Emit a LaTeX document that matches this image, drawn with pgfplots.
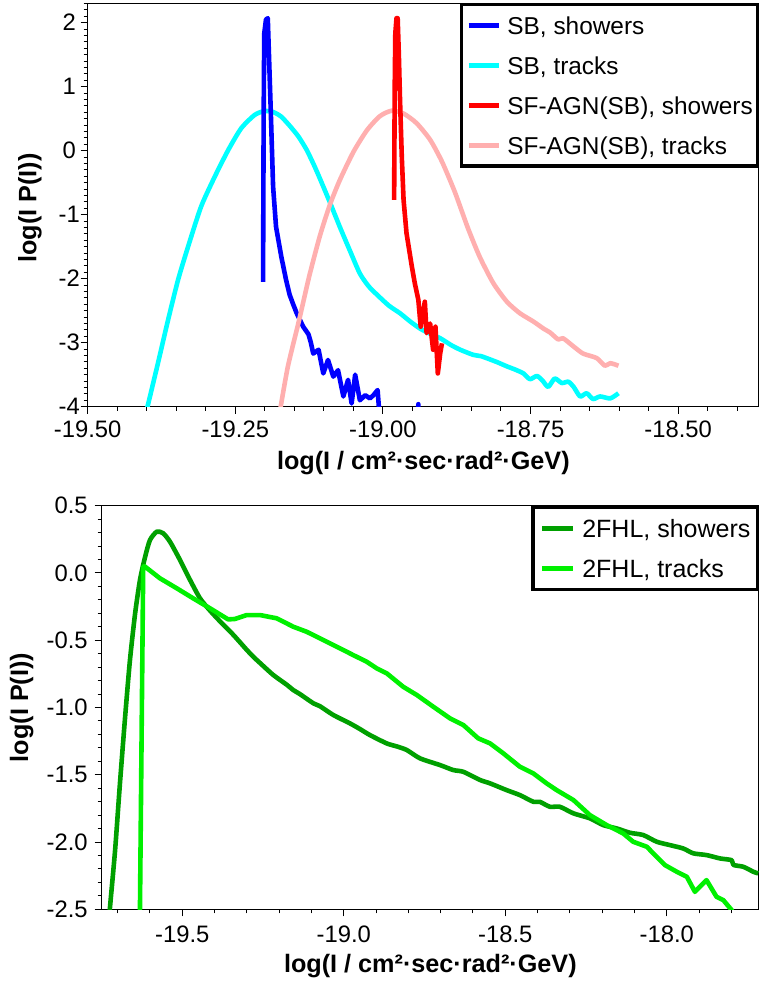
\documentclass[border=0pt]{standalone}
\usepackage{fontspec}
\setmainfont{Liberation Sans}
\usepackage{pgfplots}
\pgfplotsset{compat=1.18}

\definecolor{sbS}{RGB}{0,0,255}
\definecolor{sbT}{RGB}{0,255,255}
\definecolor{agnS}{RGB}{255,0,0}
\definecolor{agnT}{RGB}{255,175,175}
\definecolor{fhlS}{RGB}{0,160,0}
\definecolor{fhlT}{RGB}{0,240,0}

\pgfplotsset{
  panel/.style={
    scale only axis,
    axis line style={line width=0.6pt},
    tick align=outside, tick pos=left,
    major tick length=3.5pt, minor tick length=2pt,
    major tick style={black, line width=0.5pt},
    minor tick style={black, line width=0.5pt},
    tick label style={font=\fontsize{11.9}{14}\selectfont},
    xlabel style={font=\fontsize{12.6}{15}\selectfont\bfseries},
    ylabel style={font=\fontsize{12.6}{15}\selectfont\bfseries},
    legend cell align=left,
    legend style={at={(1,1)}, anchor=north east, draw=black, line width=1.6pt,
      column sep=0pt, /tikz/every odd column/.append style={column sep=3.3pt}},
    every axis plot/.append style={line width=2.3pt, line join=round},
  },
}

\begin{document}
\begin{tikzpicture}
\useasboundingbox (0,0) rectangle (379.5pt,492.5pt);

% top panel: SB and SF-AGN(SB)
\begin{axis}[panel,
  at={(43.85pt,289.15pt)}, anchor=south west,
  width=335.65pt, height=201.7pt,
  xmin=-19.5, xmax=-18.363, ymin=-4, ymax=2.303,
  xtick={-19.5,-19.25,-19,-18.75,-18.5},
  xticklabels={-19.50,-19.25,-19.00,-18.75,-18.50},
  minor xtick={-19.45,-19.40,-19.35,-19.30,-19.20,-19.15,-19.10,-19.05,-18.95,-18.90,-18.85,-18.80,-18.70,-18.65,-18.60,-18.55,-18.45,-18.40},
  ytick={-4,-3,-2,-1,0,1,2},
  yticklabels={-4,-3,-2,-1,0,1,2},
  yticklabel style={anchor=center, xshift=-5.7pt},
  minor ytick={-3.9,-3.8,...,2.25},
  xlabel={log(I / cm²·sec·rad²·GeV)},
  ylabel={log(I P(I))},
  xlabel style={at={(rel axis cs:0.5,0)}, anchor=center, yshift=-28pt},
  ylabel style={at={(rel axis cs:0,0.5)}, anchor=center, yshift=28.85pt, xshift=-1.5pt},
  legend style={font=\fontsize{12.2}{14}\selectfont, inner xsep=2.3pt, inner ysep=4.9pt,
    row sep=9.26pt, nodes={inner xsep=0pt, inner ysep=1pt, text height=8.74pt, text depth=0pt}},
  legend image code/.code={\draw[#1] (0pt,0pt) -- (15pt,0pt);},
]
\addlegendimage{sbS}\addlegendentry{SB, showers}
\addlegendimage{sbT}\addlegendentry{SB, tracks}
\addlegendimage{agnS}\addlegendentry{SF-AGN(SB), showers}
\addlegendimage{agnT}\addlegendentry{SF-AGN(SB), tracks}

\addplot[sbT, smooth, tension=0.4, forget plot] coordinates {
(-19.400,-4.05) (-19.381,-3.32) (-19.364,-2.65) (-19.347,-2.02) (-19.330,-1.50)
(-19.308,-0.875) (-19.285,-0.41) (-19.262,0.01) (-19.240,0.35) (-19.217,0.56)
(-19.200,0.62) (-19.185,0.60) (-19.172,0.53) (-19.157,0.38) (-19.143,0.22)
(-19.129,0.01) (-19.115,-0.26) (-19.101,-0.56) (-19.087,-0.87) (-19.073,-1.19)
(-19.056,-1.56) (-19.039,-1.92) (-19.024,-2.12) (-19.010,-2.25) (-18.990,-2.42)
(-18.971,-2.54) (-18.955,-2.66) (-18.937,-2.78) (-18.920,-2.86) (-18.903,-2.93)
(-18.884,-3.04) (-18.869,-3.11) (-18.847,-3.19) (-18.834,-3.21) (-18.819,-3.26)
(-18.805,-3.31) (-18.790,-3.37) (-18.776,-3.42) (-18.762,-3.48) (-18.751,-3.57)
(-18.739,-3.52) (-18.729,-3.60) (-18.720,-3.69) (-18.709,-3.56) (-18.697,-3.63)
(-18.686,-3.61) (-18.677,-3.69) (-18.666,-3.84) (-18.655,-3.79) (-18.644,-3.88)
(-18.632,-3.84) (-18.615,-3.87) (-18.601,-3.79)
};
\addplot[sbS, forget plot] coordinates {
(-19.203,-2.05) (-19.202,0.5) (-19.201,1.83) (-19.198,2.05) (-19.195,2.07)
(-19.193,1.5) (-19.190,0.64) (-19.186,-0.56) (-19.181,-1.19) (-19.172,-1.66)
(-19.164,-2.02) (-19.158,-2.25) (-19.152,-2.40) (-19.146,-2.54) (-19.135,-2.75)
(-19.126,-2.87) (-19.122,-3.00) (-19.118,-3.17) (-19.109,-3.11) (-19.101,-3.48)
(-19.093,-3.27) (-19.084,-3.53) (-19.076,-3.43) (-19.067,-3.84) (-19.059,-3.58)
(-19.053,-3.95) (-19.047,-3.50) (-19.039,-3.90) (-19.030,-3.82) (-19.022,-3.87)
(-19.016,-3.82) (-19.009,-3.74) (-19.006,-4.10) (-18.980,-4.50) (-18.942,-4.60)
(-18.940,-3.96) (-18.938,-4.60) (-18.920,-4.60)
};
\addplot[agnT, smooth, tension=0.4, forget plot] coordinates {
(-19.175,-4.10) (-19.161,-3.375) (-19.142,-2.65) (-19.125,-1.97) (-19.107,-1.34)
(-19.090,-0.85) (-19.073,-0.46) (-19.050,-0.02) (-19.027,0.32) (-19.005,0.54)
(-18.985,0.625) (-18.965,0.58) (-18.943,0.43) (-18.920,0.17) (-18.900,-0.17)
(-18.878,-0.65) (-18.856,-1.21) (-18.836,-1.66) (-18.813,-2.07) (-18.790,-2.36)
(-18.768,-2.54) (-18.745,-2.67) (-18.728,-2.78) (-18.717,-2.84) (-18.703,-2.95)
(-18.695,-2.93) (-18.677,-3.06) (-18.661,-3.17) (-18.638,-3.24) (-18.624,-3.36)
(-18.615,-3.32) (-18.601,-3.36)
};
\addplot[agnS, forget plot] coordinates {
(-18.981,-0.77) (-18.980,1.0) (-18.979,1.83) (-18.977,2.07) (-18.975,2.07)
(-18.973,1.5) (-18.971,0.79) (-18.968,-0.1) (-18.965,-0.77) (-18.960,-1.29)
(-18.951,-1.81) (-18.946,-2.07) (-18.940,-2.33) (-18.936,-2.75) (-18.929,-2.36)
(-18.926,-2.85) (-18.920,-2.70) (-18.915,-3.11) (-18.911,-2.75) (-18.907,-3.48)
(-18.903,-3.17) (-18.900,-3.01)
};
\end{axis}

% bottom panel: 2FHL
\begin{axis}[panel,
  at={(50.85pt,37.85pt)}, anchor=south west,
  width=328.65pt, height=201.8pt,
  xmin=-19.7495, xmax=-17.7145, ymin=-2.5, ymax=0.5,
  xtick={-19.5,-19,-18.5,-18},
  xticklabels={-19.5,-19.0,-18.5,-18.0},
  xticklabel style={yshift=-1.5pt},
  minor xtick={-19.7,-19.6,...,-17.75},
  ytick={-2.5,-2,-1.5,-1,-0.5,0,0.5},
  yticklabels={-2.5,-2.0,-1.5,-1.0,-0.5,0.0,0.5},
  minor ytick={-2.4,-2.3,...,0.45},
  xlabel={log(I / cm²·sec·rad²·GeV)},
  ylabel={log(I P(I))},
  xlabel style={at={(rel axis cs:0.5,0)}, anchor=center, yshift=-28.25pt},
  ylabel style={at={(rel axis cs:0,0.5)}, anchor=center, yshift=40pt},
  legend style={font=\fontsize{12.5}{15}\selectfont, inner xsep=3.5pt, inner ysep=5.1pt,
    row sep=9.05pt, nodes={inner xsep=0pt, inner ysep=1pt, text height=8.95pt, text depth=0pt}},
  legend image code/.code={\draw[#1] (0pt,0pt) -- (15.5pt,0pt);},
]
\addlegendimage{fhlS}\addlegendentry{2FHL, showers}
\addlegendimage{fhlT}\addlegendentry{2FHL, tracks}

\addplot[fhlS, smooth, tension=0.4, forget plot] coordinates {
(-19.727,-2.60) (-19.724,-2.49) (-19.708,-2.06) (-19.693,-1.564) (-19.677,-1.07)
(-19.662,-0.647) (-19.646,-0.30) (-19.631,-0.052) (-19.615,0.121) (-19.600,0.245)
(-19.579,0.307) (-19.559,0.295) (-19.538,0.232) (-19.507,0.096) (-19.476,-0.052)
(-19.445,-0.189) (-19.414,-0.28) (-19.383,-0.36) (-19.342,-0.46) (-19.301,-0.57)
(-19.280,-0.623) (-19.259,-0.67) (-19.218,-0.759) (-19.177,-0.83) (-19.156,-0.871)
(-19.136,-0.90) (-19.094,-0.969) (-19.074,-0.99) (-19.033,-1.055) (-18.981,-1.118)
(-18.950,-1.160) (-18.919,-1.205) (-18.867,-1.267) (-18.835,-1.290) (-18.805,-1.316)
(-18.764,-1.378) (-18.702,-1.428) (-18.661,-1.465) (-18.630,-1.478) (-18.578,-1.539)
(-18.547,-1.564) (-18.496,-1.614) (-18.455,-1.651) (-18.413,-1.701) (-18.393,-1.701)
(-18.362,-1.738) (-18.331,-1.738) (-18.289,-1.787) (-18.238,-1.824) (-18.197,-1.874)
(-18.155,-1.899) (-18.114,-1.931) (-18.073,-1.948) (-18.031,-1.998) (-17.990,-2.023)
(-17.949,-2.048) (-17.918,-2.084) (-17.877,-2.097) (-17.835,-2.122) (-17.799,-2.135)
(-17.794,-2.170) (-17.763,-2.184) (-17.732,-2.221) (-17.717,-2.233)
};
\addplot[fhlT, forget plot] coordinates {
(-19.632,-2.60) (-19.631,-2.49) (-19.621,0.046) (-19.617,0.05) (-19.569,-0.040)
(-19.517,-0.114) (-19.466,-0.189) (-19.414,-0.263) (-19.358,-0.345) (-19.337,-0.342)
(-19.301,-0.313) (-19.259,-0.313) (-19.208,-0.337) (-19.156,-0.400) (-19.115,-0.437)
(-19.074,-0.486) (-19.022,-0.548) (-18.971,-0.610) (-18.929,-0.660) (-18.898,-0.709)
(-18.867,-0.746) (-18.816,-0.846) (-18.774,-0.907) (-18.723,-0.994) (-18.671,-1.081)
(-18.630,-1.130) (-18.584,-1.229) (-18.547,-1.267) (-18.506,-1.341) (-18.455,-1.440)
(-18.413,-1.490) (-18.372,-1.564) (-18.341,-1.614) (-18.289,-1.688) (-18.238,-1.800)
(-18.186,-1.874) (-18.135,-1.936) (-18.104,-1.998) (-18.062,-2.035) (-18.031,-2.110)
(-18.006,-2.171) (-17.969,-2.221) (-17.938,-2.258) (-17.913,-2.370) (-17.877,-2.283)
(-17.846,-2.407) (-17.825,-2.432) (-17.799,-2.506) (-17.795,-2.55)
};
\end{axis}
\end{tikzpicture}
\end{document}
